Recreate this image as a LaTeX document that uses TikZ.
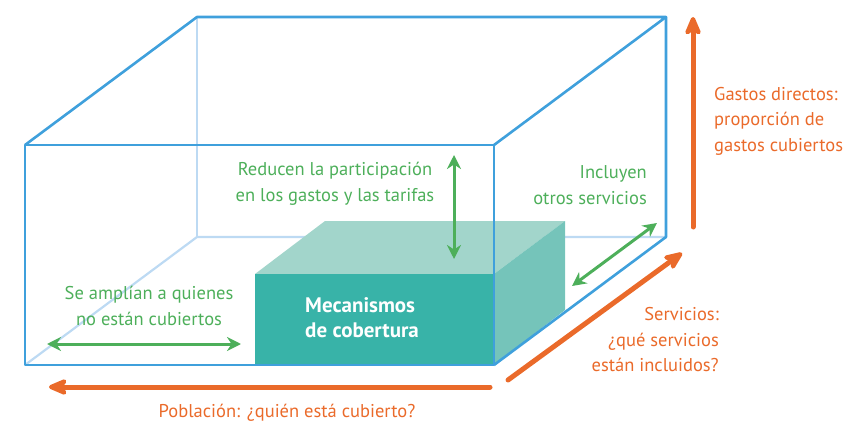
\documentclass[tikz,border=0pt]{standalone}
\usepackage{fontspec}
\setmainfont{PT Sans}
\usetikzlibrary{arrows.meta}
\definecolor{boxblue}{HTML}{3FA0DC}
\definecolor{lightblue}{HTML}{BDDAF3}
\definecolor{tealfront}{HTML}{38B3A8}
\definecolor{tealtop}{HTML}{A2D5CB}
\definecolor{tealside}{HTML}{75C4BA}
\definecolor{grn}{HTML}{4DAF5A}
\definecolor{org}{HTML}{EA6A2A}
\tikzset{
  hidden/.style={draw=lightblue, line width=2.2pt},
  edge/.style={draw=boxblue, line width=2.6pt, line join=round},
  garrow/.style={draw=grn, line width=3pt, {Stealth[length=14pt,width=14pt]}-{Stealth[length=14pt,width=14pt]}},
  oarrow/.style={draw=org, line width=5pt, line cap=round, -{Stealth[length=25pt,width=21pt,round]}},
  glabel/.style={text=grn, font=\fontsize{18.5}{25.5}\selectfont, inner sep=0pt},
  olabel/.style={text=org, font=\fontsize{18.5}{25.5}\selectfont, inner sep=0pt},
}
\begin{document}
\begin{tikzpicture}[x=1pt,y=-1pt]
\useasboundingbox (0,0) rectangle (848,425);
% outer box corners
\coordinate (FTL) at (25,145);
\coordinate (FTR) at (494,145);
\coordinate (FBL) at (25,365);
\coordinate (FBR) at (494,365);
\coordinate (BTL) at (197,17);
\coordinate (BTR) at (666,17);
\coordinate (BBL) at (197,237);
\coordinate (BBR) at (666,237);
% hidden edges
\draw[hidden] (BTL) -- (BBL);
\draw[hidden] (FBL) -- (BBL) -- (BBR);
% teal block
\coordinate (TFTL) at (255,274);
\coordinate (TFTR) at (494,274);
\coordinate (TFBL) at (255,365);
\coordinate (TFBR) at (494,365);
\coordinate (TBTL) at (325,221);
\coordinate (TBTR) at (565,221);
\coordinate (TBBR) at (565,310);
\fill[tealtop] (TFTL) -- (TBTL) -- (TBTR) -- (TFTR) -- cycle;
\fill[tealside] (TFTR) -- (TBTR) -- (TBBR) -- (TFBR) -- cycle;
\fill[tealfront] (TFTL) rectangle (TFBR);
\node[text=white, font=\fontsize{21}{25}\selectfont\bfseries, align=left, inner sep=0pt, anchor=west] (mec) at (305,318) {Mecanismos\\de cobertura};
% visible edges
\draw[edge] (FTL) rectangle (FBR);
\draw[edge] (FTL) -- (BTL) -- (BTR) -- (FTR);
\draw[edge] (BTR) -- (BBR) -- (FBR);
% green arrows
\coordinate (v1) at (454,155);
\coordinate (v2) at (454,259);
\draw[garrow] (v1) -- (v2);
\coordinate (h1) at (47,344);
\coordinate (h2) at (241,344);
\draw[garrow] (h1) -- (h2);
\coordinate (d1) at (572,286);
\coordinate (d2) at (657,223);
\draw[garrow] (d1) -- (d2);
% orange arrows
\coordinate (o1) at (490,387);
\coordinate (o2) at (49,387);
\draw[oarrow] (o1) -- (o2);
\coordinate (o3) at (508,380);
\coordinate (o4) at (682,253);
\draw[oarrow] (o3) -- (o4);
\coordinate (o5) at (693,227);
\coordinate (o6) at (693,17);
\draw[oarrow] (o5) -- (o6);
% labels
\node[glabel, align=center] (red) at (335,184) {Reducen la participación\\en los gastos y las tarifas};
\node[glabel, align=right, anchor=east] (inc) at (647,185) {Incluyen\\otros servicios};
\node[glabel, align=center] (amp) at (149,306) {Se amplían a quienes\\no están cubiertos};
\node[olabel, align=left, anchor=west] (gas) at (714,121) {Gastos directos:\\proporción de\\gastos cubiertos};
\node[olabel, align=right, anchor=east] (ser) at (719,340) {Servicios:\\¿qué servicios\\están incluidos?};
\node[olabel] (pob) at (287,413) {Población: ¿quién está cubierto?};
\end{tikzpicture}
\end{document}
